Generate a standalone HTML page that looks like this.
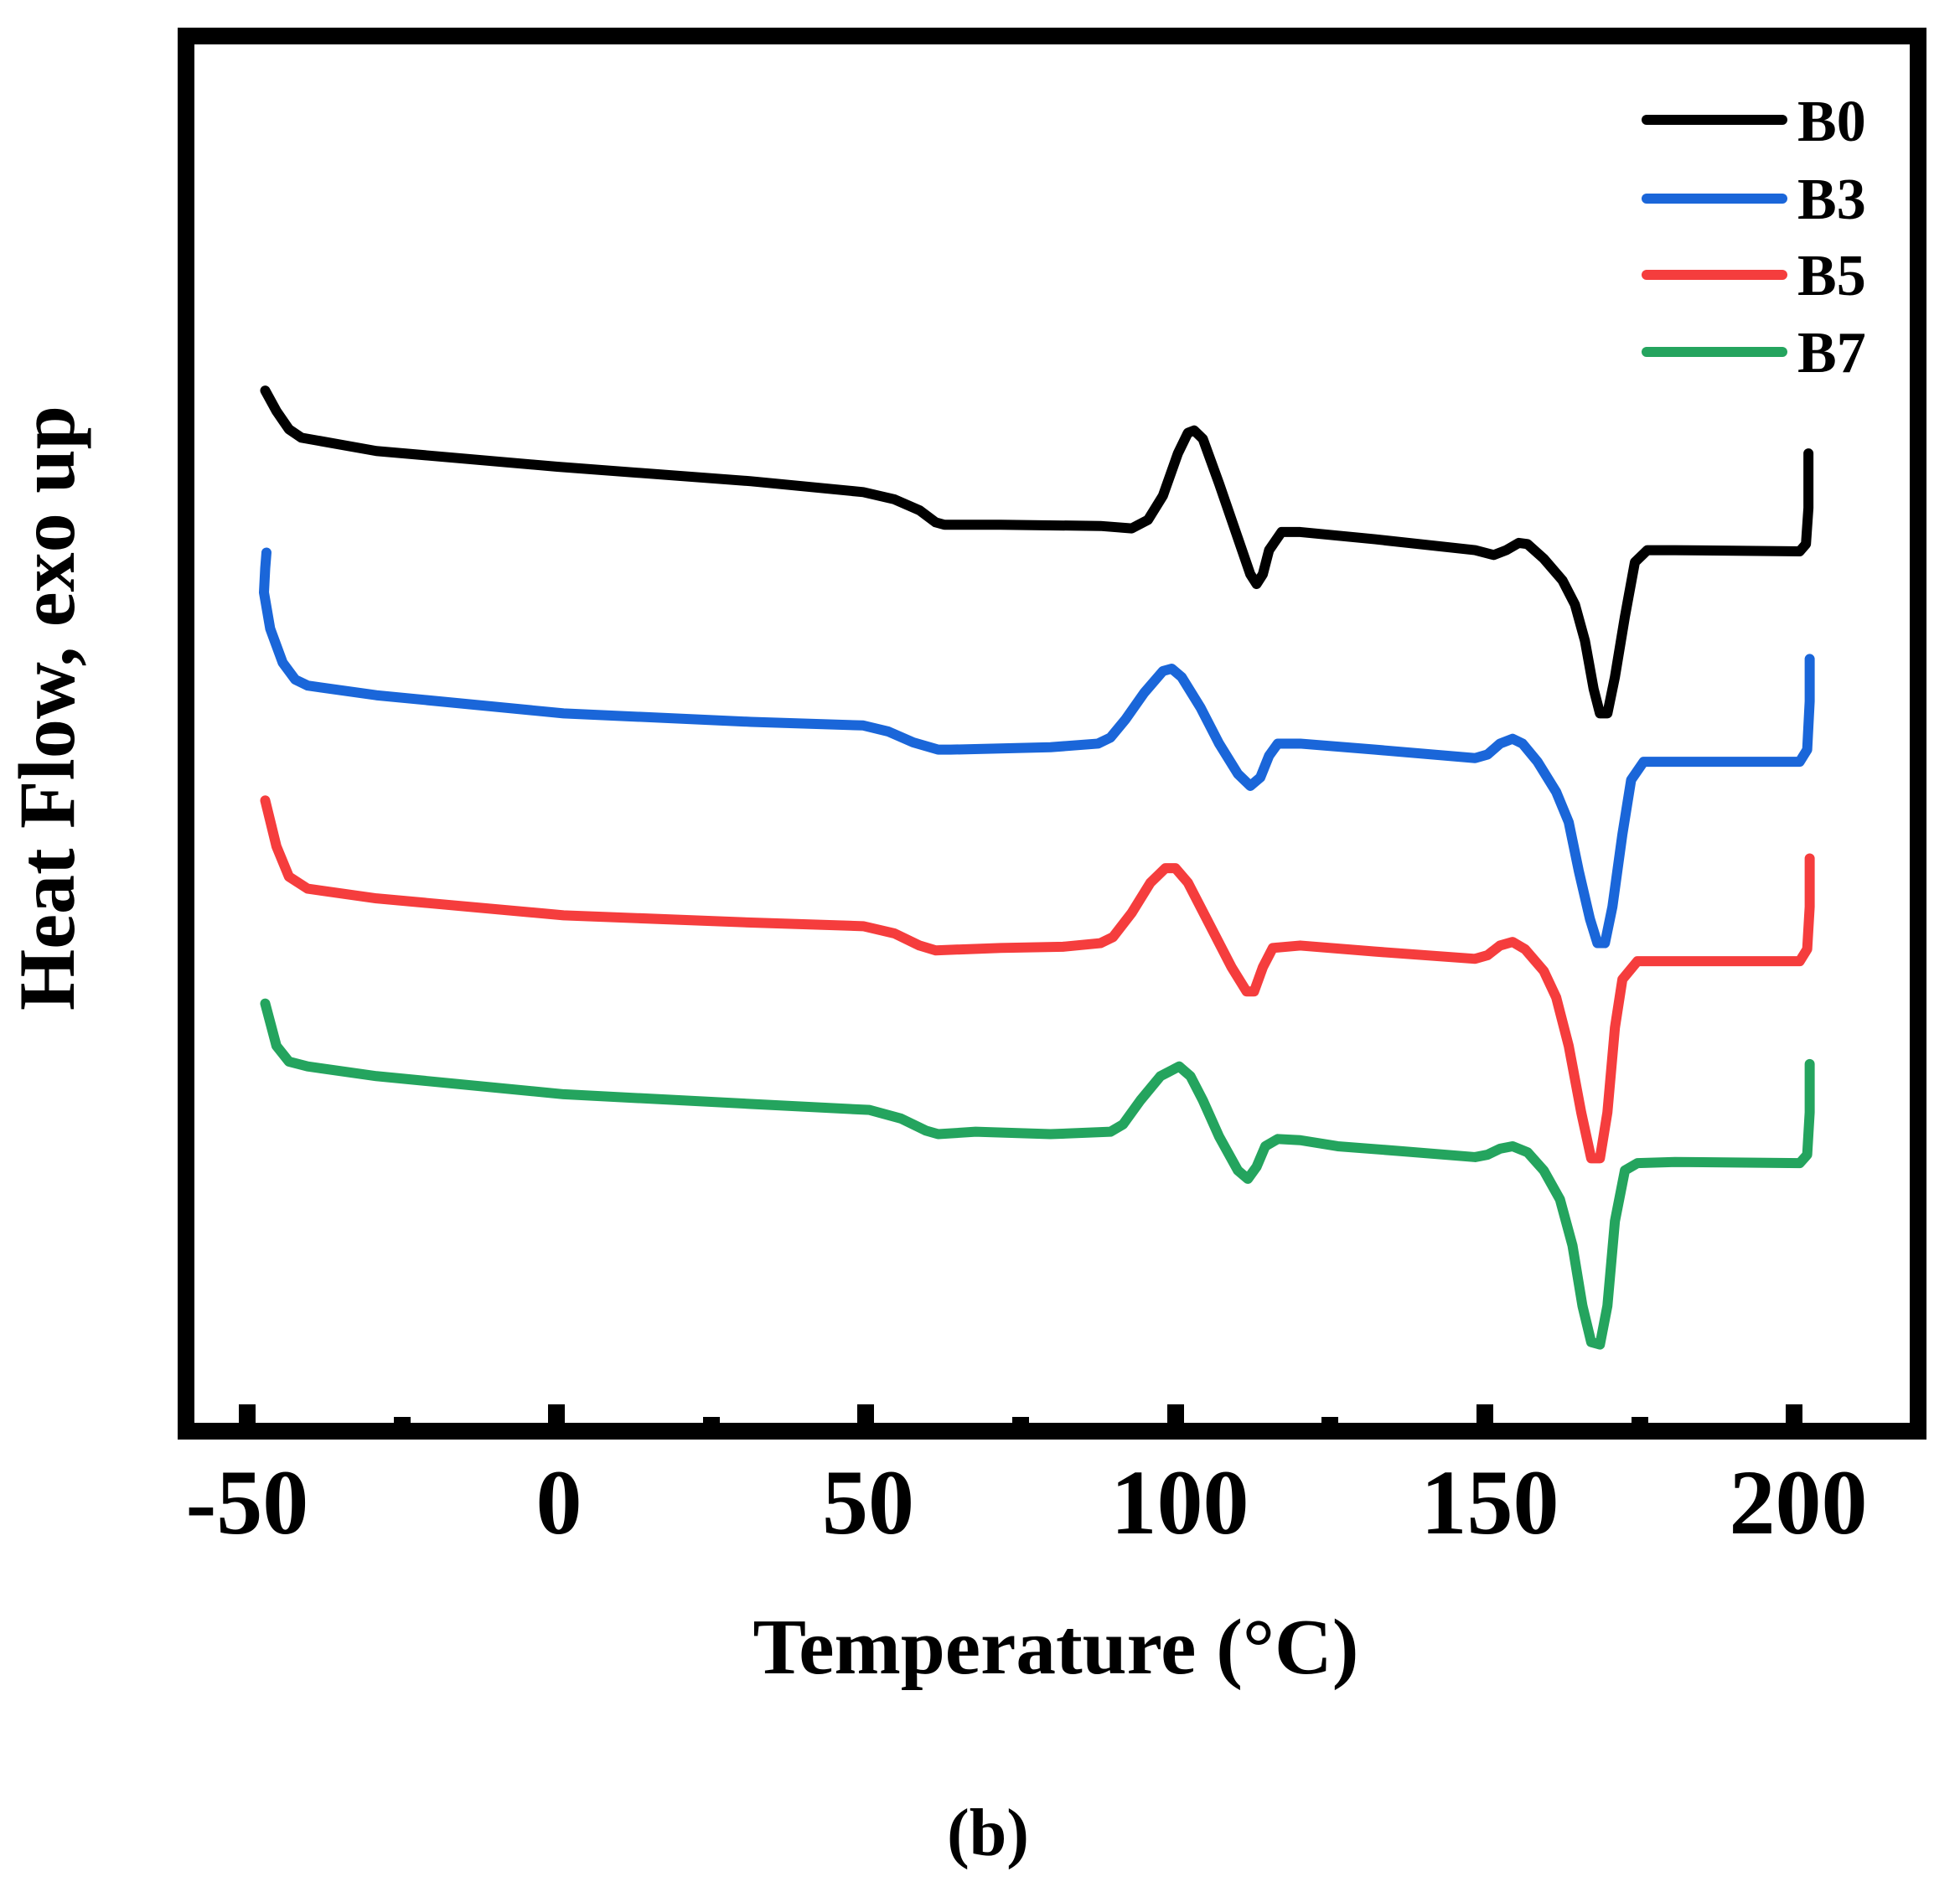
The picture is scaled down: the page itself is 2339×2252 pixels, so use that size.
<!DOCTYPE html>
<html><head><meta charset="utf-8"><style>
html,body{margin:0;padding:0;background:#fff;}
svg{display:block;}
text{font-family:"Liberation Serif",serif;font-weight:bold;fill:#000;}
</style></head><body>
<svg width="2339" height="2252" viewBox="0 0 2339 2252" xmlns="http://www.w3.org/2000/svg">
<rect x="0" y="0" width="2339" height="2252" fill="#fff"/>
<rect x="222" y="43" width="2067" height="1665" fill="none" stroke="#000" stroke-width="20"/>
<g fill="#000">
<rect x="285" y="1676" width="20" height="26"/>
<rect x="654" y="1676" width="20" height="26"/>
<rect x="1023" y="1676" width="20" height="26"/>
<rect x="1393" y="1676" width="20" height="26"/>
<rect x="1762" y="1676" width="20" height="26"/>
<rect x="2131" y="1676" width="20" height="26"/>
<rect x="470" y="1691" width="20" height="10"/>
<rect x="839" y="1691" width="20" height="10"/>
<rect x="1208" y="1691" width="20" height="10"/>
<rect x="1577" y="1691" width="20" height="10"/>
<rect x="1947" y="1691" width="20" height="10"/>
</g>
<g font-size="110" text-anchor="middle">
<text x="295" y="1830">-50</text>
<text x="667" y="1830">0</text>
<text x="1036" y="1830">50</text>
<text x="1408" y="1830">100</text>
<text x="1778" y="1830">150</text>
<text x="2146" y="1830">200</text>
</g>
<text x="1260" y="1997" font-size="94" text-anchor="middle" textLength="723" lengthAdjust="spacingAndGlyphs">Temperature (°C)</text>
<text x="1179" y="2214" font-size="80" text-anchor="middle">(b)</text>
<text transform="translate(88,845) rotate(-90)" font-size="95" text-anchor="middle" textLength="722" lengthAdjust="spacingAndGlyphs">Heat Flow, exo up</text>
<g stroke-width="12" stroke-linecap="round">
<line x1="1965" y1="143" x2="2127" y2="143" stroke="#000"/>
<line x1="1965" y1="237" x2="2127" y2="237" stroke="#1a66d9"/>
<line x1="1965" y1="328" x2="2127" y2="328" stroke="#f53d3d"/>
<line x1="1965" y1="420" x2="2127" y2="420" stroke="#24a45e"/>
</g>
<g font-size="70">
<text x="2145" y="168">B0</text>
<text x="2145" y="261">B3</text>
<text x="2145" y="352">B5</text>
<text x="2145" y="444">B7</text>
</g>
<g transform="translate(2.1,0) scale(1.490,1.443)" fill="none" stroke-width="12" stroke-linejoin="round" stroke-linecap="round">
<polyline vector-effect="non-scaling-stroke" stroke="#000" points="211,323 220,340 230,355 240,362 300,373 445,386 600,398 690,407 715,413 735,422 748,432 755,434 800,434 880,435 905,437 918,430 930,410 942,375 950,358 955,356 962,363 975,400 990,445 1000,475 1005,483 1010,475 1015,455 1025,440 1040,440 1100,446 1180,455 1195,459 1205,455 1215,449 1222,450 1235,462 1250,480 1260,500 1268,530 1275,570 1280,590 1286,590 1292,560 1300,510 1308,465 1318,455 1340,455 1440,456 1445,450 1447,420 1447,375"/>
<polyline vector-effect="non-scaling-stroke" stroke="#1a66d9" points="212,457 211,470 210,490 215,520 225,548 235,562 245,567 300,575 450,590 600,597 690,600 710,605 730,614 750,620 760,620 840,618 878,615 888,610 900,595 915,573 930,555 937,553 945,560 960,585 975,615 990,640 1000,650 1008,643 1015,625 1022,615 1040,615 1100,620 1180,627 1190,624 1200,615 1210,611 1218,615 1230,630 1245,655 1255,680 1263,720 1272,760 1278,780 1284,780 1290,750 1298,690 1305,645 1315,630 1340,630 1440,630 1446,620 1448,580 1448,545"/>
<polyline vector-effect="non-scaling-stroke" stroke="#f53d3d" points="211,662 220,700 230,725 245,735 300,743 450,757 600,763 690,766 715,772 735,782 748,786 800,784 850,783 880,780 890,775 905,755 920,730 932,718 940,718 950,730 965,760 985,800 997,820 1003,820 1010,800 1018,784 1040,782 1100,787 1180,793 1190,790 1200,782 1210,779 1220,785 1235,803 1245,825 1255,865 1265,920 1273,958 1280,958 1286,920 1292,850 1298,810 1310,795 1340,795 1440,795 1446,785 1448,750 1448,710"/>
<polyline vector-effect="non-scaling-stroke" stroke="#24a45e" points="211,830 220,865 230,878 245,882 300,890 450,905 600,913 695,918 720,925 740,935 750,938 780,936 840,938 888,936 898,930 912,910 928,890 943,882 952,890 962,910 975,940 990,968 998,975 1005,965 1012,948 1022,942 1040,943 1070,948 1120,952 1180,957 1190,955 1200,950 1210,948 1222,953 1235,968 1248,992 1258,1030 1266,1080 1273,1110 1280,1112 1286,1080 1292,1010 1300,968 1310,962 1340,961 1440,962 1446,955 1448,920 1448,880"/>
</g>
</svg>
</body></html>
